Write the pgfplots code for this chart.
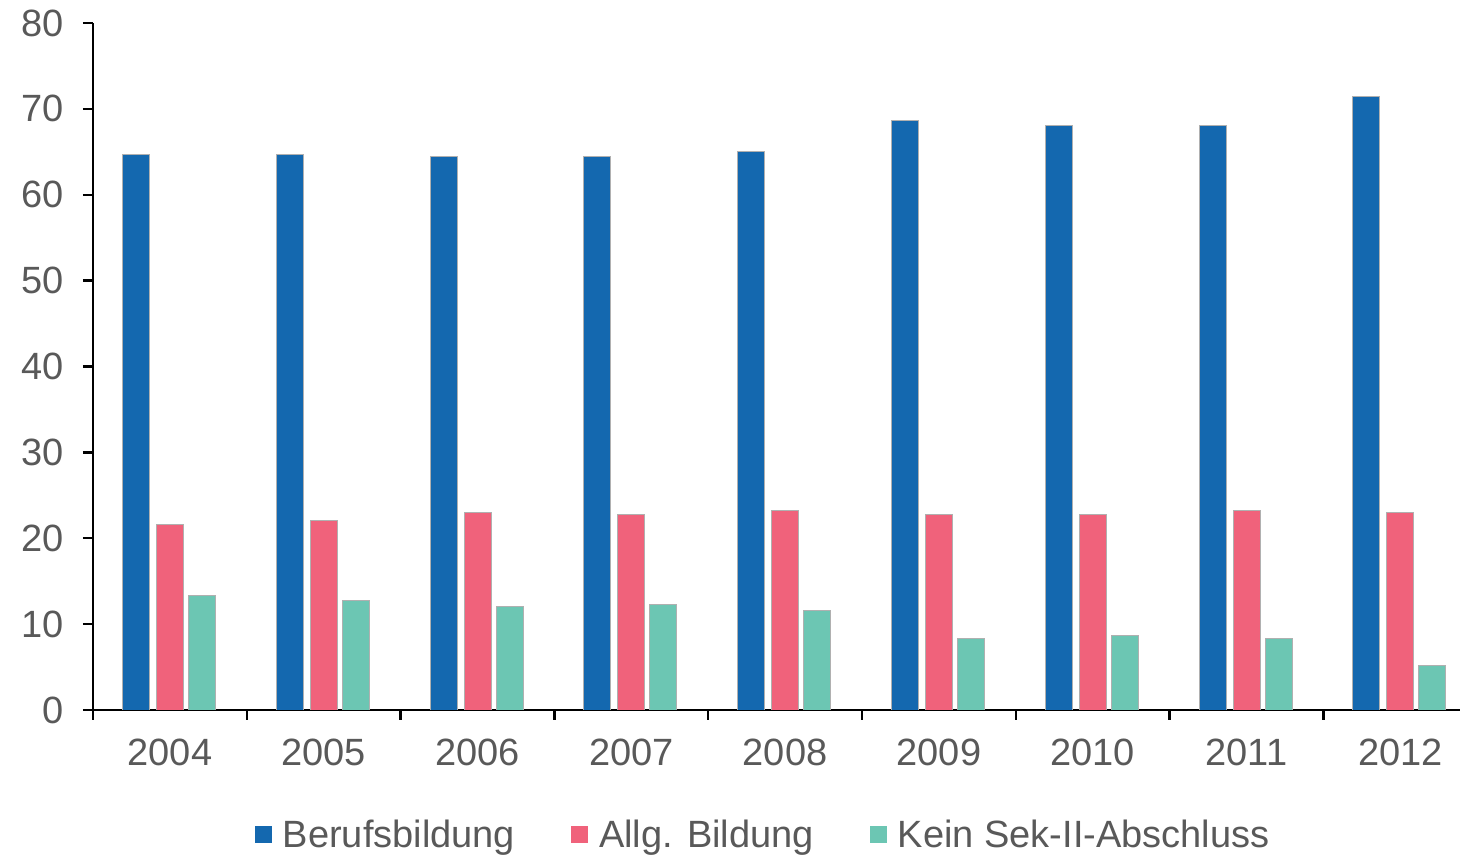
\documentclass[border=0pt]{standalone}
\usepackage{pgfplots}
\pgfplotsset{compat=1.18}
\usepackage{fontspec}
\setmainfont{Liberation Sans}
\definecolor{cblue}{HTML}{1468AF}
\definecolor{cpink}{HTML}{F0627B}
\definecolor{cteal}{HTML}{6CC6B3}
\definecolor{txt}{HTML}{595959}
\definecolor{edge}{HTML}{B0B0B0}
\begin{document}
\begin{tikzpicture}
\begin{axis}[
  scale only axis,
  width=683.5pt, height=343.5pt,
  xmin=-0.5, xmax=8.388,
  ymin=0, ymax=80,
  axis x line=bottom, axis y line=left,
  axis line style={-, line width=1.2pt, black},
  xtick={0,...,8},
  xticklabels={2004,2005,2006,2007,2008,2009,2010,2011,2012},
  x tick style={draw=none},
  extra x ticks={-0.5,0.5,1.5,2.5,3.5,4.5,5.5,6.5,7.5},
  extra x tick labels={},
  extra x tick style={x tick style={draw=black, line width=1.2pt}, major tick length=5pt, tick align=outside},
  ytick={0,10,...,80},
  y tick style={line width=1.2pt, black},
  major tick length=5pt,
  tick align=outside,
  /pgf/number format/assume math mode=true,
  ticklabel style={font=\fontsize{19}{22}\selectfont, text=txt},
  xticklabel style={yshift=-6pt},
  yticklabel style={xshift=-6pt},
  legend style={at={(0.491,-0.153)}, anchor=north, draw=none,
    font=\fontsize{19}{22}\selectfont, text=txt, legend columns=3,
    /tikz/every even column/.append style={column sep=26pt},
    /tikz/every odd column/.append style={column sep=3.5pt},
    inner sep=0pt},
  legend image code/.code={\fill[#1, draw=none] (0pt,-4.2pt) rectangle (8.5pt,4.2pt);},
  legend cell align=left,
]
\addplot[ybar, bar width=13.5pt, bar shift=-17pt, fill=cblue, draw=edge, line width=0.4pt]
  coordinates {(0,64.7) (1,64.7) (2,64.5) (3,64.5) (4,65.0) (5,68.6) (6,68.1) (7,68.1) (8,71.4)};
\addlegendentry{Berufsbildung}
\addplot[ybar, bar width=13.5pt, bar shift=0pt, fill=cpink, draw=edge, line width=0.4pt]
  coordinates {(0,21.6) (1,22.1) (2,23.0) (3,22.8) (4,23.2) (5,22.8) (6,22.8) (7,23.2) (8,23.0)};
\addlegendentry{Allg. Bildung}
\addplot[ybar, bar width=13.5pt, bar shift=16pt, fill=cteal, draw=edge, line width=0.4pt]
  coordinates {(0,13.3) (1,12.8) (2,12.1) (3,12.3) (4,11.6) (5,8.3) (6,8.7) (7,8.3) (8,5.2)};
\addlegendentry{Kein Sek-II-Abschluss}
\end{axis}
\pgfresetboundingbox
\path ([shift={(-46.5pt,-73.5pt)}]current axis.south west) rectangle ([shift={(0pt,11.5pt)}]current axis.north east);
\end{tikzpicture}
\end{document}
